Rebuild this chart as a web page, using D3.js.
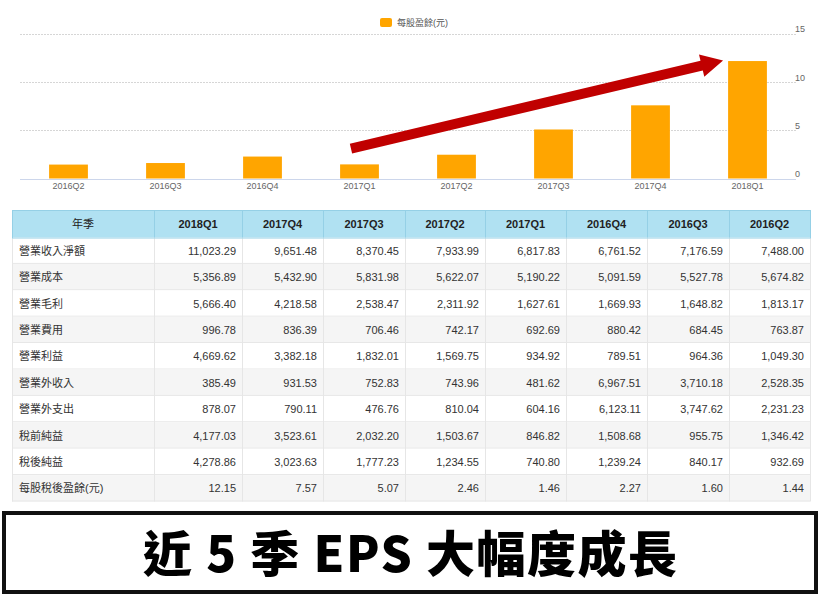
<!DOCTYPE html>
<html>
<head>
<meta charset="utf-8">
<script src="https://cdn.jsdelivr.net/npm/d3@7/dist/d3.min.js"></script>
<style>
  html, body { margin: 0; padding: 0; background: #fff; }
  svg { display: block; }
</style>
</head>
<body>
<svg id="chart" width="820" height="610"></svg>
<script>
// ---------- data ----------
const quarters = ["2018Q1","2017Q4","2017Q3","2017Q2","2017Q1","2016Q4","2016Q3","2016Q2"];
const headerLabel = "年季";
const rowLabels = ["營業收入淨額","營業成本","營業毛利","營業費用","營業利益","營業外收入","營業外支出","稅前純益","稅後純益","每股稅後盈餘(元)"];
const revenue    = [11023.29, 9651.48, 8370.45, 7933.99, 6817.83, 6761.52, 7176.59, 7488.00];
const cost       = [5356.89, 5432.90, 5831.98, 5622.07, 5190.22, 5091.59, 5527.78, 5674.82];
const grossProfit= [5666.40, 4218.58, 2538.47, 2311.92, 1627.61, 1669.93, 1648.82, 1813.17];
const opExpense  = [996.78, 836.39, 706.46, 742.17, 692.69, 880.42, 684.45, 763.87];
const opIncome   = [4669.62, 3382.18, 1832.01, 1569.75, 934.92, 789.51, 964.36, 1049.30];
const nonOpIncome= [385.49, 931.53, 752.83, 743.96, 481.62, 6967.51, 3710.18, 2528.35];
const nonOpExp   = [878.07, 790.11, 476.76, 810.04, 604.16, 6123.11, 3747.62, 2231.23];
const preTax     = [4177.03, 3523.61, 2032.20, 1503.67, 846.82, 1508.68, 955.75, 1346.42];
const afterTax   = [4278.86, 3023.63, 1777.23, 1234.55, 740.80, 1239.24, 840.17, 932.69];
const eps        = [12.15, 7.57, 5.07, 2.46, 1.46, 2.27, 1.60, 1.44];
const yTicks = [0, 5, 10, 15];
const legendLabel = "每股盈餘(元)";
const bannerText = "近 5 季 EPS 大幅度成長";
// annotation arrow in data terms
const arrowFrom = { q: "2017Q1", frac: 0.28, value: 3.1 };
const arrowTo   = { q: "2018Q1", frac: -0.13, value: 12.2 };

const tableRows = [revenue, cost, grossProfit, opExpense, opIncome, nonOpIncome, nonOpExp, preTax, afterTax, eps];

// ---------- layout ----------
const svg = d3.select("#chart");
const latin = "'Liberation Sans', Arial, 'Noto Sans CJK TC', sans-serif";
const plot = { left: 20, right: 796, top: 33.5, bottom: 178.5 };

const chartOrder = quarters.slice().reverse();
const chartVals = eps.slice().reverse();

const x = d3.scaleBand().domain(chartOrder).range([plot.left, plot.right])
  .paddingInner(0.6).paddingOuter(0.3);
const y = d3.scaleLinear().domain([0, 15]).range([plot.bottom, plot.top]);

// gridlines
svg.append("g").selectAll("line").data(yTicks.filter(t => t > 0)).join("line")
  .attr("x1", plot.left).attr("x2", plot.right)
  .attr("y1", d => Math.round(y(d)) + 0.5).attr("y2", d => Math.round(y(d)) + 0.5)
  .attr("stroke", "#d6d6d6").attr("stroke-width", 1).attr("stroke-dasharray", "2,1");

// bars
svg.append("g").selectAll("rect").data(chartOrder).join("rect")
  .attr("x", d => x(d)).attr("width", x.bandwidth())
  .attr("y", (d, i) => y(chartVals[i])).attr("height", (d, i) => y(0) - y(chartVals[i]))
  .attr("fill", "#ffa500");

// baseline
svg.append("line").attr("x1", plot.left).attr("x2", plot.right)
  .attr("y1", Math.round(y(0)) + 0.5).attr("y2", Math.round(y(0)) + 0.5)
  .attr("stroke", "#ccd6eb").attr("stroke-width", 1);

// x axis labels
const xAxis = d3.axisBottom(x).tickSize(0).tickPadding(4);
const gx = svg.append("g").attr("transform", `translate(0,${y(0)})`).call(xAxis);
gx.select(".domain").remove();
gx.selectAll("text").attr("font-family", latin).attr("font-size", 9).attr("fill", "#666");

// y axis labels (right)
const yAxis = d3.axisRight(y).tickValues(yTicks).tickSize(0).tickPadding(0);
const gy = svg.append("g").attr("transform", `translate(795,-4.5)`).call(yAxis);
gy.select(".domain").remove();
gy.selectAll("text").attr("font-family", latin).attr("font-size", 9).attr("fill", "#666");

// legend
svg.append("rect").attr("x", 380).attr("y", 18).attr("width", 12).attr("height", 9)
  .attr("rx", 2).attr("fill", "#ffa500");
svg.append("text").attr("x", 397).attr("y", 25.5).text(legendLabel)
  .attr("font-family", latin).attr("font-size", 9).attr("fill", "#555");

// arrow annotation
(function () {
  const x0 = x(arrowFrom.q) + x.bandwidth() * arrowFrom.frac;
  const y0 = y(arrowFrom.value);
  const x1 = x(arrowTo.q) + x.bandwidth() * arrowTo.frac;
  const y1 = y(arrowTo.value);
  const L = Math.hypot(x1 - x0, y1 - y0);
  const ux = (x1 - x0) / L, uy = (y1 - y0) / L;
  const nx = -uy, ny = ux;
  const sw = 5, hw = 11.5, hl = 22;
  const neckX = x1 - ux * hl, neckY = y1 - uy * hl;
  const pts = [
    [x0 + nx * sw, y0 + ny * sw],
    [neckX + nx * sw, neckY + ny * sw],
    [neckX + nx * hw, neckY + ny * hw],
    [x1, y1],
    [neckX - nx * hw, neckY - ny * hw],
    [neckX - nx * sw, neckY - ny * sw],
    [x0 - nx * sw, y0 - ny * sw]
  ];
  svg.append("path").attr("d", d3.line()(pts) + "Z").attr("fill", "#c00000");
})();

// ---------- table ----------
const colWidths = [142, 88, 81, 82, 80, 81, 81, 82, 81];
const colX = [12];
colWidths.forEach((w, i) => colX.push(colX[i] + w));
const tableTop = 210, headerH = 27.5, rowH = 26.4;
const fmt = d3.format(",.2f");
const tg = svg.append("g");

// header
tg.append("rect").attr("x", colX[0]).attr("y", tableTop)
  .attr("width", colX[colX.length - 1] - colX[0]).attr("height", headerH)
  .attr("fill", "#b0e1f2");
const headers = [headerLabel].concat(quarters);
headers.forEach((h, i) => {
  tg.append("text").attr("x", (colX[i] + colX[i + 1]) / 2).attr("y", tableTop + headerH / 2 + 4)
    .attr("text-anchor", "middle").attr("font-family", latin)
    .attr("font-size", 11).attr("font-weight", i === 0 ? "normal" : "bold")
    .attr("fill", "#222").text(h);
});

// body rows
rowLabels.forEach((lab, r) => {
  const ry = tableTop + headerH + r * rowH;
  tg.append("rect").attr("x", colX[0]).attr("y", ry)
    .attr("width", colX[colX.length - 1] - colX[0]).attr("height", rowH)
    .attr("fill", r % 2 === 0 ? "#ffffff" : "#f5f5f5");
  tg.append("line").attr("x1", colX[0]).attr("x2", colX[colX.length - 1])
    .attr("y1", ry + rowH - 0.5).attr("y2", ry + rowH - 0.5)
    .attr("stroke", "#e6e6e6");
  tg.append("text").attr("x", colX[0] + 7).attr("y", ry + rowH / 2 + 4)
    .attr("font-family", latin).attr("font-size", 11).attr("fill", "#333").text(lab);
  tableRows[r].forEach((v, c) => {
    tg.append("text").attr("x", colX[c + 2] - 6).attr("y", ry + rowH / 2 + 4)
      .attr("text-anchor", "end").attr("font-family", latin).attr("font-size", 11)
      .attr("fill", "#333").text(fmt(v));
  });
});
const tableBottom = tableTop + headerH + rowLabels.length * rowH;
// vertical lines
colX.forEach((cx, i) => {
  tg.append("line").attr("x1", cx + 0.5).attr("x2", cx + 0.5)
    .attr("y1", tableTop + headerH).attr("y2", tableBottom).attr("stroke", "#e6e6e6");
  tg.append("line").attr("x1", cx + 0.5).attr("x2", cx + 0.5)
    .attr("y1", tableTop).attr("y2", tableTop + headerH).attr("stroke", "#95d0e6");
});
tg.append("rect").attr("x", colX[0] + 0.5).attr("y", tableTop + 0.5)
  .attr("width", colX[colX.length - 1] - colX[0]).attr("height", headerH)
  .attr("fill", "none").attr("stroke", "#95d0e6");

// ---------- banner ----------
svg.append("rect").attr("x", 4).attr("y", 513).attr("width", 812).attr("height", 79)
  .attr("fill", "#fff").attr("stroke", "#111").attr("stroke-width", 4);
const banner = svg.append("text").attr("x", 410).attr("y", 572).attr("text-anchor", "middle")
  .attr("font-family", "'Noto Sans CJK TC', sans-serif").attr("font-weight", 900)
  .attr("font-size", 49).attr("fill", "#000")
  .text(bannerText);
const bw = banner.node().getComputedTextLength();
const nChars = bannerText.length;
if (bw > 0 && bw < 534) {
  const ls = (534 - bw) / (nChars - 1);
  banner.attr("letter-spacing", ls).attr("x", 410 + ls / 2);
}
</script>
</body>
</html>
